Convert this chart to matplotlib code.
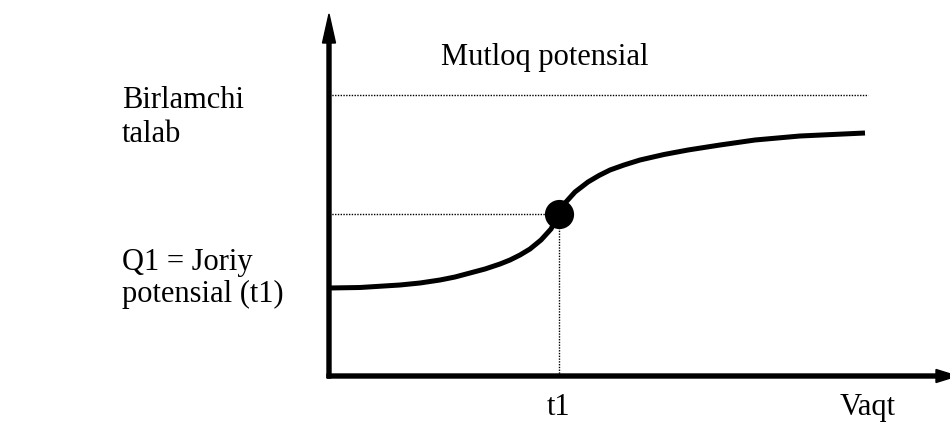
import numpy as np
import matplotlib.pyplot as plt

# egri chiziq (vaqt, talab) - rasmdan o'qilgan qiymatlar
vaqt = [0.0, 0.62, 1.42, 1.82, 2.22, 2.52, 2.82, 3.12, 3.42, 3.62, 3.82,
        4.02, 4.24, 4.44, 4.6, 4.74, 4.92, 5.18, 5.4, 5.62, 5.9, 6.22,
        6.7, 7.18, 7.82, 8.52, 9.42, 10.72]
talab = [1.76, 1.77, 1.82, 1.86, 1.92, 1.98, 2.06, 2.14, 2.24, 2.32, 2.42,
         2.54, 2.72, 2.94, 3.24, 3.48, 3.68, 3.88, 4.01, 4.12, 4.22, 4.32,
         4.43, 4.52, 4.62, 4.72, 4.80, 4.86]

t1 = 4.6
q1 = 3.24
mutloq = 5.62
x_oxiri = 10.78

chap_matn = ["Birlamchi", "talab", "Q1 = Joriy", "potensial (t1)"]
chap_y = [5.36, 4.68, 2.12, 1.48]

plt.rcParams['font.family'] = ['Liberation Serif', 'DejaVu Serif']

fig = plt.figure(figsize=(9.5, 4.23), dpi=100)
ax = fig.add_axes([0, 0, 1, 1])
ax.set_xlim(-6.58, 12.42)
ax.set_ylim(-0.94, 7.52)
ax.axis('off')

# o'qlar
ax.arrow(-0.04, 0, 12.6, 0, width=0.08, head_width=0.26, head_length=0.42,
         length_includes_head=True, color='k', clip_on=False)
ax.arrow(0, -0.04, 0, 7.28, width=0.08, head_width=0.26, head_length=0.58,
         length_includes_head=True, color='k')

# nuqtali chiziqlar
ax.plot([0, x_oxiri], [mutloq, mutloq], color='k', lw=1, ls=(0, (1, 1)))
ax.plot([0, t1], [q1, q1], color='k', lw=1, ls=(0, (1, 1)))
ax.plot([t1, t1], [0, q1], color='k', lw=1, ls=(0, (1, 1)))

ax.plot(vaqt, talab, color='k', lw=3.6, solid_capstyle='butt',
        solid_joinstyle='round')
ax.plot([t1], [q1], 'o', color='k', markersize=20)

fs = 22
ax.text(2.24, 6.22, "Mutloq potensial", fontsize=fs, va='baseline')
for s, y in zip(chap_matn, chap_y):
    ax.text(-4.14, y, s, fontsize=fs, va='baseline')
ax.text(t1, -0.78, "t1", fontsize=fs, va='baseline', ha='center')
ax.text(10.78, -0.78, "Vaqt", fontsize=fs, va='baseline', ha='center')

fig.savefig("out.png", dpi=100)
